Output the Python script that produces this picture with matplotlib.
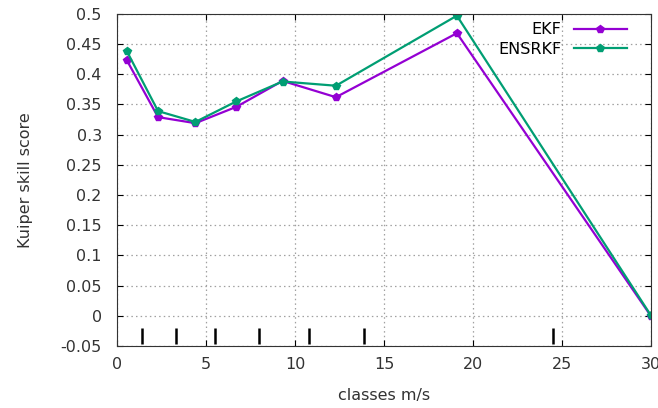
import numpy as np
import matplotlib
matplotlib.use("Agg")
import matplotlib.pyplot as plt
from matplotlib.ticker import FormatStrFormatter, MultipleLocator

plt.rcParams["font.family"] = "DejaVu Sans"
plt.rcParams["axes.unicode_minus"] = False

# datos
clases = [0.55, 2.3, 4.4, 6.7, 9.3, 12.3, 19.1, 30.0]
ekf = [0.423, 0.329, 0.319, 0.346, 0.389, 0.362, 0.468, 0.0]
ensrkf = [0.438, 0.339, 0.321, 0.355, 0.388, 0.381, 0.497, 0.001]
limites = [1.4, 3.3, 5.5, 8.0, 10.8, 13.9, 24.5]
nivel_limites = [-0.034] * len(limites)

fig = plt.figure(figsize=(6.58, 4.08), dpi=100)
ax = fig.add_axes([0.178, 0.152, 0.811, 0.814])

ax.plot(clases, ekf, color="#9400d3", lw=1.6, marker="p", ms=5.5, label="EKF")
ax.plot(clases, ensrkf, color="#009e73", lw=1.6, marker="p", ms=5.5, label="ENSRKF")
ax.plot(limites, nivel_limites, ls="none", marker="|", ms=11, mew=1.8, color="black")

ax.set_xlim(0, 30)
ax.set_ylim(-0.05, 0.5)
ax.xaxis.set_major_locator(MultipleLocator(5))
ax.yaxis.set_major_locator(MultipleLocator(0.05))
ax.yaxis.set_major_formatter(FormatStrFormatter("%g"))
ax.tick_params(direction="in", top=True, right=True, labelsize=11.5, length=4,
               colors="black", labelcolor="#333333")
ax.tick_params(axis="x", pad=8)
ax.tick_params(axis="y", pad=11)
for s in ax.spines.values():
    s.set_color("#333333")
ax.grid(True, ls=(0, (1.2, 2.5)), color="#a0a0a0", lw=0.9)

ax.set_xlabel("classes m/s", fontsize=11.5, color="#333333")
ax.set_ylabel("Kuiper skill score", fontsize=11.5, color="#333333")
ax.xaxis.set_label_coords(0.5, -0.127)
ax.yaxis.set_label_coords(-0.157, 0.5)

ax.legend(loc="upper right", bbox_to_anchor=(0.967, 0.994), borderaxespad=0,
          frameon=False, markerfirst=False, fontsize=11.5,
          handlelength=3.3, handletextpad=0.8, labelspacing=0.3)

fig.savefig("out.png", dpi=100)
